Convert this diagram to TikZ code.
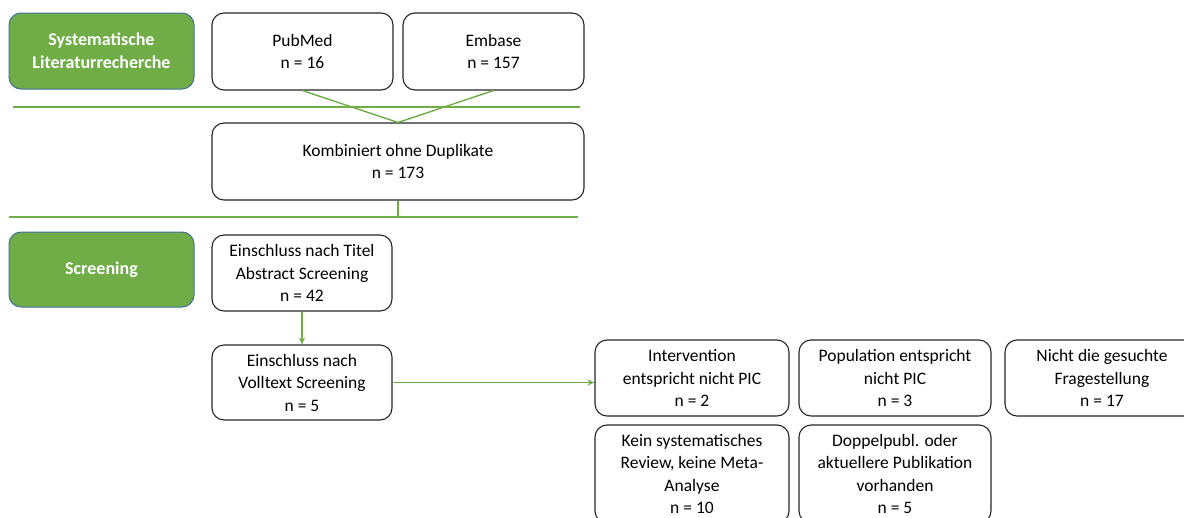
\documentclass[tikz,border=0pt]{standalone}
\usepackage{fontspec}
\setmainfont{Carlito}
\usetikzlibrary{arrows.meta}
\definecolor{phasegreen}{RGB}{112,173,71}
\definecolor{phaseedge}{RGB}{65,113,156}
\tikzset{
  box/.style={draw=black!85, line width=1.1pt, rounded corners=12pt, fill=white,
    align=center, inner sep=0pt, font=\fontsize{17.5}{22.5}\selectfont},
  phase/.style={draw=phaseedge, line width=1pt, rounded corners=12pt, fill=phasegreen,
    text=white, align=center, inner sep=0pt,
    font=\fontsize{18}{23}\selectfont\bfseries,
    minimum width=185pt},
  link/.style={draw=phasegreen, line width=1.4pt},
  flow/.style={link, -{Stealth[length=7pt,width=6pt]}},
}
\begin{document}
\begin{tikzpicture}[x=1pt,y=-1pt]
\useasboundingbox (0,0) rectangle (1184,517);
\clip (0,0) rectangle (1184,517);
\fill[white] (0,0) rectangle (1184,517);

% phase labels
\node[phase, minimum height=76pt] (sys) at (101.5,51) {Systematische\\Literaturrecherche};
\node[phase, minimum height=75pt] (scr) at (101.5,269.5) {Screening};

% identification
\node[box, minimum width=181pt, minimum height=77pt] (pubmed) at (302.5,51.5) {PubMed\\n = 16};
\node[box, minimum width=181pt, minimum height=77pt] (embase) at (493.5,51.5) {Embase\\n = 157};
\node[box, minimum width=372pt, minimum height=77pt] (komb) at (398,161.5) {Kombiniert ohne Duplikate\\n = 173};

% separators
\coordinate (s1a) at (13,107);
\coordinate (s1b) at (580,107);
\coordinate (s2a) at (9,217);
\coordinate (s2b) at (578,217);
\draw[link] (s1a) -- (s1b);
\draw[link] (s2a) -- (s2b);

\draw[link] (pubmed.south) -- (komb.north);
\draw[link] (embase.south) -- (komb.north);
\draw[link] (komb.south) -- (komb.south |- s2a);

% screening
\node[box, minimum width=180pt, minimum height=76pt] (titel) at (302,273) {Einschluss nach Titel\\Abstract Screening\\n = 42};
\node[box, minimum width=180pt, minimum height=75pt] (voll) at (302,382.5) {Einschluss nach\\Volltext Screening\\n = 5};
\draw[flow] (titel.south) -- (voll.north);

% exclusion reasons
\node[box, minimum width=194pt, minimum height=76pt] (interv) at (692,378) {Intervention\\entspricht nicht PIC\\n = 2};
\node[box, minimum width=192pt, minimum height=76pt] (popul) at (895,378) {Population entspricht\\nicht PIC\\n = 3};
\node[box, minimum width=194pt, minimum height=76pt] (frage) at (1102,378) {Nicht die gesuchte\\Fragestellung\\n = 17};
\node[box, minimum width=194pt, minimum height=98pt] (kein) at (692,474) {Kein systematisches\\Review, keine Meta-\\Analyse\\n = 10};
\node[box, minimum width=192pt, minimum height=98pt] (doppel) at (895,474) {Doppelpubl. oder\\aktuellere Publikation\\vorhanden\\n = 5};

\draw[flow] (voll.east) -- (voll.east -| interv.west);
\end{tikzpicture}
\end{document}
